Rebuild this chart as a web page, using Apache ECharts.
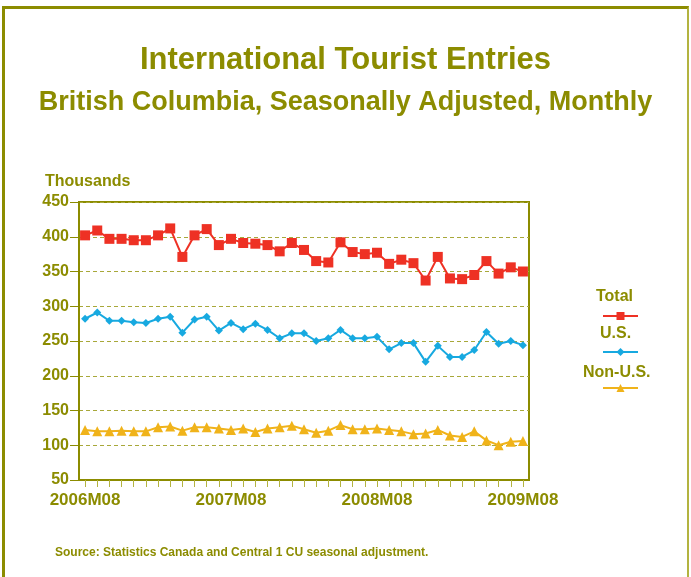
<!DOCTYPE html>
<html>
<head>
<meta charset="utf-8">
<script src="https://cdn.jsdelivr.net/npm/echarts@6/dist/echarts.min.js"></script>
<style>
  html, body { margin: 0; padding: 0; background: #fff; }
  #frame {
    position: absolute; left: 2px; top: 6px; width: 687px; height: 575px;
    border-top: 3px solid #8c8c00; border-left: 3px solid #8c8c00;
    border-right: 2px solid #b3b340; box-sizing: border-box;
  }
  #chart { position: absolute; left: 0; top: 0; width: 691px; height: 577px; }
</style>
</head>
<body>
<div id="frame"></div>
<div id="chart"></div>
<script>
const olive = '#8c8c00'
const months = [
  '2006M08', '2006M09', '2006M10', '2006M11', '2006M12', '2007M01', '2007M02', '2007M03', '2007M04', '2007M05', '2007M06', '2007M07',
  '2007M08', '2007M09', '2007M10', '2007M11', '2007M12', '2008M01', '2008M02', '2008M03', '2008M04', '2008M05', '2008M06', '2008M07',
  '2008M08', '2008M09', '2008M10', '2008M11', '2008M12', '2009M01', '2009M02', '2009M03', '2009M04', '2009M05', '2009M06', '2009M07',
  '2009M08'
]
const total = [402, 409, 397, 397, 395, 395, 402, 412, 371, 402, 411, 388,
  397, 391, 390, 388, 379, 391, 381, 365, 363, 392, 378, 375,
  377, 361, 367, 362, 337, 371, 340, 339, 345, 365, 347, 356,
  350]
const us = [282, 291, 279, 279, 277, 276, 282, 285, 262, 281, 285, 265,
  276, 267, 275, 266, 254, 261, 261, 250, 254, 266, 254, 254,
  256, 238, 247, 247, 220, 243, 227, 227, 237, 263, 246, 250,
  244]
const nonUs = [122, 120, 120, 121, 120, 120, 126, 127, 121, 126, 126, 124,
  122, 124, 119, 124, 126, 128, 123, 118, 121, 129, 123, 123,
  124, 122, 120, 116, 117, 122, 114, 112, 120, 107, 100, 105,
  106]
const yTicks = { min: 50, max: 450, step: 50 }

function makeSeries(name, data, color, symbol, size) {
  return {
    name: name,
    type: 'line',
    data: data,
    symbol: symbol,
    symbolSize: size,
    showSymbol: true,
    showAllSymbol: true,
    itemStyle: { color: color },
    lineStyle: { color: color, width: 2 },
    animation: false
  }
}

const chart = echarts.init(document.getElementById('chart'))
chart.setOption({
  textStyle: { fontFamily: 'Liberation Sans', fontWeight: 'bold' },
  title: [
    { text: 'International Tourist Entries', left: 'center', top: 40,
      textStyle: { color: olive, fontSize: 31, fontWeight: 'bold', fontFamily: 'Liberation Sans' } },
    { text: 'British Columbia, Seasonally Adjusted, Monthly', left: 'center', top: 84,
      textStyle: { color: olive, fontSize: 27, fontWeight: 'bold', fontFamily: 'Liberation Sans' } },
    { text: 'Thousands', left: 40, top: 169,
      textStyle: { color: olive, fontSize: 16, fontWeight: 'bold', fontFamily: 'Liberation Sans' } },
    { text: 'Source: Statistics Canada and Central 1 CU seasonal adjustment.', left: 50, top: 542,
      textStyle: { color: olive, fontSize: 12, fontWeight: 'bold', fontFamily: 'Liberation Sans' } }
  ],
  grid: {
    left: 79, right: 162, top: 202, bottom: 97,
    show: true, borderColor: olive, borderWidth: 2, backgroundColor: '#fff'
  },
  legend: {
    orient: 'vertical',
    left: 597, top: 306,
    itemWidth: 35, itemHeight: 10, itemGap: 27,
    formatter: () => '',
    data: ['Total', 'U.S.', 'Non-U.S.']
  },
  graphic: [
    { type: 'text', left: 596, top: 289, style: { text: 'Total', fill: olive, font: 'bold 16px "Liberation Sans"' } },
    { type: 'text', left: 600, top: 326, style: { text: 'U.S.', fill: olive, font: 'bold 16px "Liberation Sans"' } },
    { type: 'text', left: 583, top: 365, style: { text: 'Non-U.S.', fill: olive, font: 'bold 16px "Liberation Sans"' } }
  ],
  xAxis: {
    type: 'category',
    data: months,
    boundaryGap: true,
    axisLine: { lineStyle: { color: olive, width: 2 } },
    axisTick: { show: true, interval: 0, alignWithLabel: true, length: 7, lineStyle: { color: '#b3b340', width: 1 } },
    axisLabel: { interval: 11, color: olive, fontSize: 17, fontWeight: 'bold', margin: 12 },
    splitLine: { show: false }
  },
  yAxis: {
    type: 'value',
    min: yTicks.min, max: yTicks.max, interval: yTicks.step,
    axisLine: { show: true, lineStyle: { color: olive, width: 2 } },
    axisTick: { show: true, length: 9, lineStyle: { color: olive, width: 1 } },
    axisLabel: { color: olive, fontSize: 16, fontWeight: 'bold', margin: 10 },
    splitLine: { lineStyle: { color: '#a8a83a', type: [4, 3], width: 1 } }
  },
  series: [
    makeSeries('Total', total, '#ee3124', 'rect', 10),
    makeSeries('U.S.', us, '#17a9e0', 'diamond', 8),
    makeSeries('Non-U.S.', nonUs, '#f0b31a', 'triangle', 10)
  ]
})
</script>
</body>
</html>
